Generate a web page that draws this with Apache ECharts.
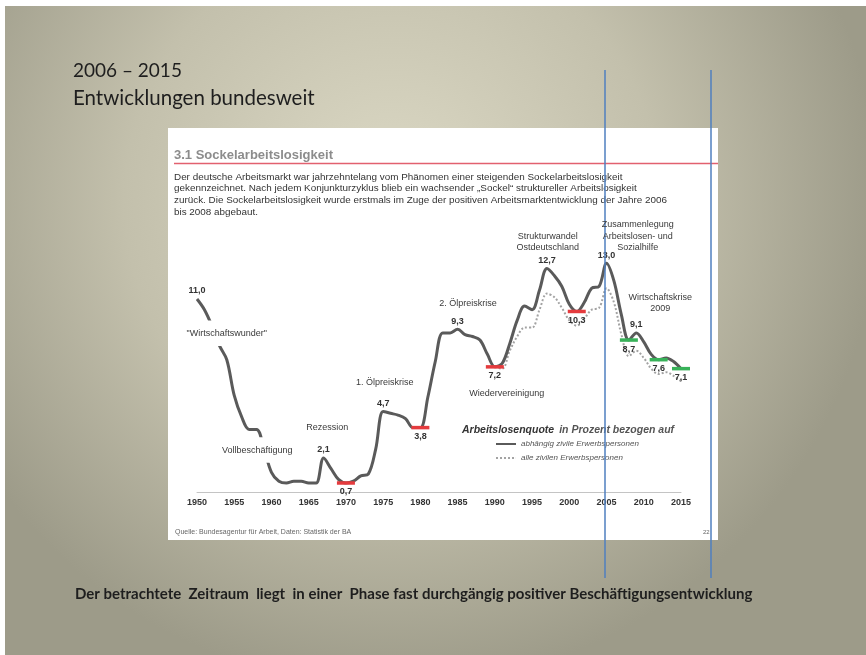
<!DOCTYPE html>
<html>
<head>
<meta charset="utf-8">
<title>Sockelarbeitslosigkeit</title>
<script src="https://cdn.jsdelivr.net/npm/echarts@6/dist/echarts.min.js"></script>
<style>
html,body{margin:0;padding:0;background:#fff;}
#main{width:866px;height:655px;}
</style>
</head>
<body>
<div id="main"></div>
<script>
// Arbeitslosenquote in %, bezogen auf abhaengige zivile Erwerbspersonen (durchgezogen)
var years = [1950,1951,1952,1953,1954,1955,1956,1957,1958,1959,
             1960,1961,1962,1963,1964,1965,1966,1967,1968,1969,
             1970,1971,1972,1973,1974,1975,1976,1977,1978,1979,
             1980,1981,1982,1983,1984,1985,1986,1987,1988,1989,
             1990,1991,1992,1993,1994,1995,1996,1997,1998,1999,
             2000,2001,2002,2003,2004,2005,2006,2007,2008,2009,
             2010,2011,2012,2013,2014,2015];
var quoteAbh = [11.0,10.4,9.5,8.4,7.6,5.6,4.4,3.7,3.7,2.6,
                1.3,0.8,0.7,0.8,0.8,0.7,0.7,2.1,1.5,0.9,
                0.7,0.8,1.1,1.2,2.6,4.7,4.6,4.5,4.3,3.8,
                3.8,5.5,7.5,9.1,9.1,9.3,9.0,8.9,8.7,7.9,
                7.2,7.4,8.5,9.8,10.6,10.4,11.5,12.7,12.3,11.7,
                10.7,10.3,10.8,11.6,11.7,13.0,12.0,10.1,8.7,9.1,
                8.6,7.9,7.6,7.7,7.5,7.1];

// bezogen auf alle zivilen Erwerbspersonen (gepunktet)
var yearsAlle = [1990,1991,1992,1993,1994,1995,1996,1997,1998,1999,
                 2000,2001,2002,2003,2004,2005,2006,2007,2008,2009,
                 2010,2011,2012,2013,2014,2015];
var quoteAlle = [7.2,7.1,8.1,8.9,9.4,9.4,10.4,11.3,11.1,10.5,
                 9.8,9.5,9.9,10.4,10.5,11.6,10.8,9.0,7.8,8.1,
                 7.7,7.1,6.8,6.9,6.7,6.4];

var xTicks = [1950,1955,1960,1965,1970,1975,1980,1985,1990,1995,2000,2005,2010,2015];

// Jahre mit Wertbeschriftung
var labelTop = [1950,1967,1975,1985,1997,2005,2009];
var labelBottom = [1970,1980,1990,2001,2008,2012,2015];
// Tiefpunkte (rot: Sockel steigt, gruen: Sockel sinkt)
var minRed = [1970,1980,1990,2001];
var minGreen = [2008,2012,2015];

var seriesAbh = 'abhängig zivile Erwerbspersonen';
var seriesAlle = 'alle zivilen Erwerbspersonen';

function valueAt(y){ return quoteAbh[years.indexOf(y)]; }
function fmt(v){ return v.toFixed(1).replace('.', ','); }

// Anmerkungen im Diagramm: Text und Ankerpunkt [Jahr, Quote]
var notes = [
  {name:'"Wirtschaftswunder"', value:[1954.0, 9.08], bg:true},
  {name:'Vollbeschäftigung', value:[1958.1, 2.54], bg:true},
  {name:'Rezession', value:[1967.5, 3.83]},
  {name:'1. Ölpreiskrise', value:[1975.2, 6.34]},
  {name:'2. Ölpreiskrise', value:[1986.4, 10.76]},
  {name:'Wiedervereinigung', value:[1991.6, 5.73]},
  {name:'Strukturwandel\nOstdeutschland', value:[1997.1, 14.2]},
  {name:'Zusammenlegung\nArbeitslosen- und\nSozialhilfe', value:[2009.2, 14.5]},
  {name:'Wirtschaftskrise\n2009', value:[2012.2, 10.76]}
];

var font = 'Liberation Sans, Arial, sans-serif';
var slideFont = 'Lato, Open Sans, sans-serif';

// Legendensymbole: durchgezogene und gepunktete Linie
var iconSolid = 'path://M0 0H20V2H0Z';
var iconDots = 'path://' + [0,4,8,12,16].map(function(x){
  return 'M' + x + ' 0H' + (x + 2) + 'V2H' + x + 'Z';
}).join(' ') + ' M19.9 0H20V2H19.9Z';

var hidden = {color: 'rgba(0,0,0,0)', opacity: 1};

var myChart = echarts.init(document.getElementById('main'));

var option = {
  animation: false,
  textStyle: {fontFamily: font},
  grid: {left: 197, right: 185, top: 227.5, bottom: 159.5},
  xAxis: {
    type: 'value',
    min: 1950, max: 2015, interval: 5,
    offset: -3.5,
    axisLine: {show: true, lineStyle: {color: '#c4c4c4', width: 1}},
    axisTick: {show: false},
    splitLine: {show: false},
    axisLabel: {
      margin: 6, fontSize: 9, fontWeight: 'bold', color: '#333', fontFamily: font,
      formatter: function(v){ return xTicks.indexOf(v) > -1 ? String(v) : ''; }
    }
  },
  yAxis: {type: 'value', min: 0, max: 15, show: false},
  legend: {
    data: [{name: seriesAbh, icon: iconSolid}, {name: seriesAlle, icon: iconDots}],
    orient: 'vertical',
    left: 491, top: 435,
    itemWidth: 20, itemHeight: 8, itemGap: 6,
    textStyle: {fontSize: 8, fontStyle: 'italic', color: '#555', fontFamily: font}
  },
  title: {
    left: 457, top: 416,
    text: '{b|Arbeitslosenquote} {i|in Prozent bezogen auf}',
    textStyle: {
      rich: {
        b: {fontSize: 10.5, fontWeight: 'bold', fontStyle: 'italic', color: '#333', fontFamily: font},
        i: {fontSize: 10.5, fontStyle: 'italic', color: '#555', fontFamily: font}
      }
    }
  },
  graphic: [
    // Folienhintergrund
    {type: 'rect', z: -10, shape: {x: 5, y: 6, width: 861, height: 649},
     style: {fill: {type: 'radial', x: 0.45, y: 0.3, r: 0.75,
       colorStops: [{offset: 0, color: '#dcd9c5'}, {offset: 0.55, color: '#c3c0ac'}, {offset: 1, color: '#9d9b89'}]}}},
    {type: 'text', z: -5, left: 73, top: 61,
     style: {text: '2006 – 2015', font: '19px ' + slideFont, fill: '#1e1e1e'}},
    {type: 'text', z: -5, left: 73, top: 88,
     style: {text: 'Entwicklungen bundesweit', font: '20.5px ' + slideFont, fill: '#1e1e1e'}},
    {type: 'text', z: -5, left: 75, top: 587,
     style: {text: 'Der betrachtete  Zeitraum  liegt  in einer  Phase fast durchgängig positiver Beschäftigungsentwicklung',
       font: 'bold 15px ' + slideFont, fill: '#1e1e1e'}},
    // weisses Bild der Folie
    {type: 'rect', z: -4, shape: {x: 168, y: 128, width: 550, height: 412}, style: {fill: '#ffffff'}},
    {type: 'text', z: -3, left: 174, top: 149,
     style: {text: '3.1 Sockelarbeitslosigkeit', font: 'bold 13px ' + font, fill: '#8c8c8c'}},
    {type: 'line', z: -3, shape: {x1: 174, y1: 163.5, x2: 718, y2: 163.5},
     style: {stroke: '#e2616f', lineWidth: 1.5}},
    {type: 'text', z: -3, left: 174, top: 171,
     style: {text: 'Der deutsche Arbeitsmarkt war jahrzehntelang vom Phänomen einer steigenden Sockelarbeitslosigkeit\n' +
       'gekennzeichnet. Nach jedem Konjunkturzyklus blieb ein wachsender „Sockel“ struktureller Arbeitslosigkeit\n' +
       'zurück. Die Sockelarbeitslosigkeit wurde erstmals im Zuge der positiven Arbeitsmarktentwicklung der Jahre 2006\n' +
       'bis 2008 abgebaut.',
       font: '9.9px ' + font, fill: '#333', lineHeight: 11.7}},
    {type: 'text', z: -3, left: 175, top: 529,
     style: {text: 'Quelle: Bundesagentur für Arbeit, Daten: Statistik der BA', font: '7px ' + font, fill: '#666'}},
    {type: 'text', z: -3, left: 703, top: 529,
     style: {text: '22', font: '6px ' + font, fill: '#666'}},
    // blaue Markierungslinien
    {type: 'line', z: 100, shape: {x1: 605, y1: 70, x2: 605, y2: 578},
     style: {stroke: '#4f7fbf', lineWidth: 1.5}},
    {type: 'line', z: 100, shape: {x1: 711, y1: 70, x2: 711, y2: 578},
     style: {stroke: '#4f7fbf', lineWidth: 1.5}}
  ],
  series: [
    {
      name: seriesAlle,
      type: 'line',
      data: yearsAlle.map(function(y, i){ return [y, quoteAlle[i]]; }),
      smooth: 0.35,
      symbol: 'none',
      z: 2,
      itemStyle: {color: '#a3a3a3'},
      lineStyle: {color: '#a3a3a3', width: 2, type: 'dotted'}
    },
    {
      name: seriesAbh,
      type: 'line',
      data: years.map(function(y, i){ return [y, quoteAbh[i]]; }),
      smooth: 0.35,
      symbol: 'none',
      z: 3,
      itemStyle: {color: '#5a5a5a'},
      lineStyle: {color: '#5a5a5a', width: 3}
    },
    {
      name: 'rot',
      type: 'scatter',
      symbol: 'rect',
      symbolSize: [18, 3.5],
      z: 4,
      itemStyle: {color: '#e53b3e', opacity: 1},
      data: minRed.map(function(y){ return [y, valueAt(y)]; })
    },
    {
      name: 'gruen',
      type: 'scatter',
      symbol: 'rect',
      symbolSize: [18, 3.5],
      z: 4,
      itemStyle: {color: '#38b259', opacity: 1},
      data: minGreen.map(function(y){ return [y, valueAt(y)]; })
    },
    {
      name: 'werteOben',
      type: 'scatter',
      symbolSize: 1,
      z: 5,
      itemStyle: hidden,
      label: {show: true, position: 'top', distance: 3, fontSize: 9, fontWeight: 'bold', color: '#333',
        formatter: function(p){ return fmt(p.value[1]); }},
      data: labelTop.map(function(y){ return [y, valueAt(y)]; })
    },
    {
      name: 'werteUnten',
      type: 'scatter',
      symbolSize: 1,
      z: 5,
      itemStyle: hidden,
      label: {show: true, position: 'bottom', distance: 4, fontSize: 9, fontWeight: 'bold', color: '#333',
        formatter: function(p){ return fmt(p.value[1]); }},
      data: labelBottom.map(function(y){ return [y, valueAt(y)]; })
    },
    {
      name: 'notizen',
      type: 'scatter',
      symbolSize: 1,
      zlevel: 1,
      itemStyle: hidden,
      label: {show: true, position: 'inside', fontSize: 9, color: '#3a3a3a', lineHeight: 11.5,
        formatter: '{b}'},
      data: notes.map(function(n){
        var item = {name: n.name, value: n.value};
        if (n.bg) item.label = {backgroundColor: '#fff', padding: [7, 2]};
        return item;
      })
    }
  ]
};

myChart.setOption(option);
window.addEventListener('resize', function(){
  myChart.resize();
});
</script>
</body>
</html>
